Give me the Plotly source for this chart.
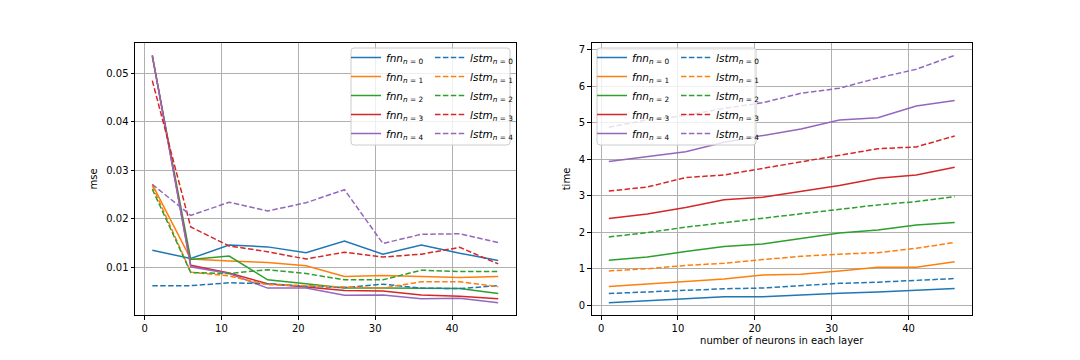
import numpy as np
import plotly.graph_objects as go

# ---------------- data ----------------
neurons = [1, 6, 11, 16, 21, 26, 31, 36, 41, 46]

mse_fnn0 = [0.0135, 0.0118, 0.0146, 0.0142, 0.0130, 0.0154, 0.0127, 0.0146, 0.0129, 0.0114]
mse_fnn1 = [0.0271, 0.0117, 0.0113, 0.0110, 0.0103, 0.0081, 0.0083, 0.0081, 0.0079, 0.0081]
mse_fnn2 = [0.0535, 0.0116, 0.0123, 0.0074, 0.0066, 0.0057, 0.0057, 0.0057, 0.0056, 0.0046]
mse_fnn3 = [0.0537, 0.0104, 0.0088, 0.0066, 0.0059, 0.0052, 0.0051, 0.0043, 0.0040, 0.0035]
mse_fnn4 = [0.0537, 0.0101, 0.0087, 0.0057, 0.0057, 0.0042, 0.0043, 0.0035, 0.0036, 0.0027]
mse_lstm0 = [0.0062, 0.0062, 0.0068, 0.0066, 0.0061, 0.0058, 0.0065, 0.0057, 0.0056, 0.0062]
mse_lstm1 = [0.0268, 0.0090, 0.0082, 0.0064, 0.0062, 0.0059, 0.0057, 0.0070, 0.0070, 0.0060]
mse_lstm2 = [0.0261, 0.0089, 0.0087, 0.0095, 0.0087, 0.0074, 0.0074, 0.0094, 0.0091, 0.0091]
mse_lstm3 = [0.0485, 0.0183, 0.0144, 0.0132, 0.0117, 0.0131, 0.0121, 0.0127, 0.0141, 0.0107]
mse_lstm4 = [0.0271, 0.0207, 0.0234, 0.0216, 0.0233, 0.0260, 0.0149, 0.0168, 0.0169, 0.0151]

time_fnn0 = [0.07, 0.12, 0.16, 0.23, 0.23, 0.29, 0.33, 0.36, 0.41, 0.46]
time_fnn1 = [0.51, 0.58, 0.63, 0.72, 0.83, 0.85, 0.94, 1.04, 1.04, 1.19]
time_fnn2 = [1.23, 1.32, 1.47, 1.61, 1.68, 1.82, 1.98, 2.06, 2.20, 2.27]
time_fnn3 = [2.38, 2.50, 2.68, 2.89, 2.96, 3.13, 3.28, 3.48, 3.57, 3.78]
time_fnn4 = [3.94, 4.07, 4.21, 4.47, 4.66, 4.83, 5.08, 5.14, 5.46, 5.61]
time_lstm0 = [0.32, 0.37, 0.40, 0.45, 0.47, 0.54, 0.60, 0.63, 0.67, 0.73]
time_lstm1 = [0.94, 1.00, 1.09, 1.15, 1.25, 1.34, 1.40, 1.44, 1.56, 1.72]
time_lstm2 = [1.87, 1.99, 2.14, 2.26, 2.38, 2.50, 2.62, 2.75, 2.84, 2.98]
time_lstm3 = [3.13, 3.24, 3.50, 3.57, 3.75, 3.93, 4.12, 4.29, 4.34, 4.64]
time_lstm4 = [4.88, 5.08, 5.20, 5.40, 5.55, 5.81, 5.95, 6.23, 6.47, 6.85]

x_ticks = [0, 10, 20, 30, 40]
mse_ticks = [0.01, 0.02, 0.03, 0.04, 0.05]
time_ticks = [0, 1, 2, 3, 4, 5, 6, 7]

mse_fnn = [mse_fnn0, mse_fnn1, mse_fnn2, mse_fnn3, mse_fnn4]
mse_lstm = [mse_lstm0, mse_lstm1, mse_lstm2, mse_lstm3, mse_lstm4]
time_fnn = [time_fnn0, time_fnn1, time_fnn2, time_fnn3, time_fnn4]
time_lstm = [time_lstm0, time_lstm1, time_lstm2, time_lstm3, time_lstm4]

colors = ["#1f77b4", "#ff7f0e", "#2ca02c", "#d62728", "#9467bd"]
FONT = "DejaVu Sans"
W, H = 1080, 360
DASH = "5.5px,2.4px"


def px_x(p):
    return p / W


def px_y(p):
    return 1 - p / H


def auto_range(arrs):
    a = np.concatenate([np.asarray(v, dtype=float) for v in arrs])
    lo, hi = a.min(), a.max()
    m = (hi - lo) * 0.05
    return [lo - m, hi + m]


def fnn_name(i):
    return "<i>fnn</i><sub><i>n</i> = %d</sub>" % i


def lstm_name(i):
    return "<i>lstm</i><sub><i>n</i> = %d</sub>" % i


fig = go.Figure()

# left: mse
for i in range(5):
    fig.add_trace(go.Scatter(x=neurons, y=mse_fnn[i], mode="lines", name=fnn_name(i),
                             line=dict(color=colors[i], width=1.5),
                             xaxis="x", yaxis="y", legend="legend"))
for i in range(5):
    fig.add_trace(go.Scatter(x=neurons, y=mse_lstm[i], mode="lines", name=lstm_name(i),
                             line=dict(color=colors[i], width=1.5, dash=DASH),
                             xaxis="x", yaxis="y", legend="legend2"))
# right: time
for i in range(5):
    fig.add_trace(go.Scatter(x=neurons, y=time_fnn[i], mode="lines", name=fnn_name(i),
                             line=dict(color=colors[i], width=1.5),
                             xaxis="x2", yaxis="y2", legend="legend3"))
for i in range(5):
    fig.add_trace(go.Scatter(x=neurons, y=time_lstm[i], mode="lines", name=lstm_name(i),
                             line=dict(color=colors[i], width=1.5, dash=DASH),
                             xaxis="x2", yaxis="y2", legend="legend4"))

xr = auto_range([neurons])
yr1 = auto_range(mse_fnn + mse_lstm)
yr2 = auto_range(time_fnn + time_lstm)

axis_common = dict(
    showline=True, linecolor="black", linewidth=1, mirror=True,
    ticks="outside", ticklen=3.5, tickwidth=0.8, tickcolor="black",
    showgrid=True, gridcolor="#b0b0b0", gridwidth=0.8,
    zeroline=False, automargin=False,
    tickfont=dict(family=FONT, size=10, color="black"),
    title_font=dict(family=FONT, size=10, color="black"),
)

ydom = [px_y(315), px_y(43)]
fig.update_layout(
    width=W, height=H,
    margin=dict(l=0, r=0, t=0, b=0),
    paper_bgcolor="white", plot_bgcolor="white",
    font=dict(family=FONT, size=10, color="black"),
    xaxis=dict(domain=[px_x(135), px_x(515.5)], range=xr, anchor="y",
               tickvals=x_ticks, **axis_common),
    yaxis=dict(domain=ydom, range=yr1, anchor="x", tickvals=mse_ticks,
               title=dict(text="mse", standoff=6), **axis_common),
    xaxis2=dict(domain=[px_x(591.5), px_x(972)], range=xr, anchor="y2",
                tickvals=x_ticks,
                title=dict(text="number of neurons in each layer", standoff=4),
                **axis_common),
    yaxis2=dict(domain=ydom, range=yr2, anchor="x2", tickvals=time_ticks,
                title=dict(text="time", standoff=6), **axis_common),
    showlegend=True,
)

legend_common = dict(
    xanchor="left", yanchor="top", bgcolor="rgba(0,0,0,0)", borderwidth=0,
    font=dict(family=FONT, size=10.5, color="black"), tracegroupgap=0,
    itemclick=False, itemdoubleclick=False,
)
ly = px_y(43)
fig.update_layout(
    legend=dict(x=px_x(346), y=ly, **legend_common),
    legend2=dict(x=px_x(430), y=ly, **legend_common),
    legend3=dict(x=px_x(592), y=ly, **legend_common),
    legend4=dict(x=px_x(676), y=ly, **legend_common),
)


def rounded_box(x0, y0, x1, y1, r=3):
    X = lambda p: px_x(p)
    Y = lambda p: px_y(p)
    return (f"M {X(x0 + r)} {Y(y0)} L {X(x1 - r)} {Y(y0)} Q {X(x1)} {Y(y0)} {X(x1)} {Y(y0 + r)} "
            f"L {X(x1)} {Y(y1 - r)} Q {X(x1)} {Y(y1)} {X(x1 - r)} {Y(y1)} "
            f"L {X(x0 + r)} {Y(y1)} Q {X(x0)} {Y(y1)} {X(x0)} {Y(y1 - r)} "
            f"L {X(x0)} {Y(y0 + r)} Q {X(x0)} {Y(y0)} {X(x0 + r)} {Y(y0)} Z")


for (bx0, bx1) in [(351, 510), (597, 756)]:
    fig.add_shape(type="path", xref="paper", yref="paper",
                  path=rounded_box(bx0, 48, bx1, 145),
                  fillcolor="rgba(255,255,255,0.8)",
                  line=dict(color="#cccccc", width=1), layer="above")

fig.write_html("out.html", config={"displayModeBar": False},
               post_script="document.body.style.margin='0';")
